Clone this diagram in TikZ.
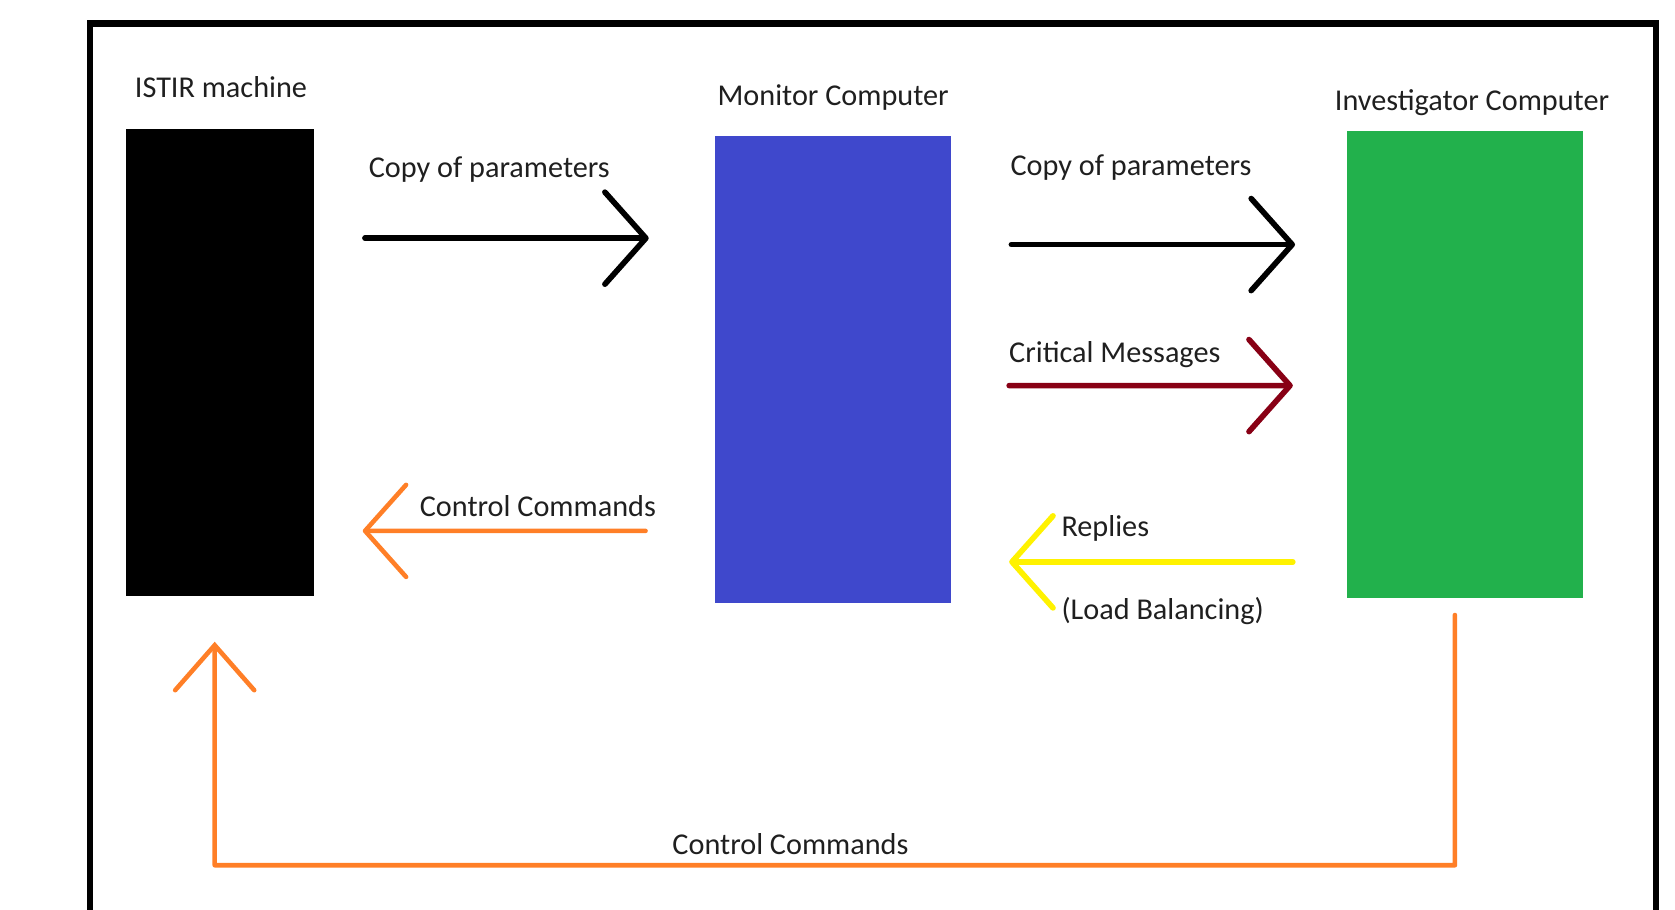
\documentclass[tikz,border=0pt]{standalone}
\usepackage{fontspec}
\setmainfont{Carlito}
\usetikzlibrary{arrows.meta}

\definecolor{paintblue}{HTML}{3F48CC}
\definecolor{paintgreen}{HTML}{22B14C}
\definecolor{paintorange}{HTML}{FF7F27}
\definecolor{paintyellow}{HTML}{FFF200}
\definecolor{paintred}{HTML}{880015}

\tikzset{
    machine/.style={draw=none, inner sep=0pt, minimum width=1.88cm, minimum height=4.67cm},
    computer/.style={draw=none, inner sep=0pt, minimum width=2.36cm, minimum height=4.67cm},
    lbl/.style={font=\fontsize{8.6}{10}\selectfont, text=black!88, inner sep=0pt},
    flow/.style={line width=1.6pt, line cap=round, line join=round,
        -{Straight Barb[length=4.1mm,width=9.2mm,line cap=round,line join=round]}},
}

\begin{document}
\begin{tikzpicture}[x=0.01cm,y=0.01cm]
    \useasboundingbox (0,0) rectangle (1675,910);
    % outer frame (its bottom edge is cut off)
    \draw[line width=1.8pt] (89.7,-20) |- (1655.8,886.5) -- (1655.8,-20);

    \node[machine, fill=black] (istir) at (220,547.3) {};
    \node[computer, fill=paintblue] (monitor) at (832.7,540.4) {};
    \node[computer, fill=paintgreen] (investigator) at (1465.1,545.2) {};

    \node[lbl] (istirlbl) at (221,822.5) {ISTIR machine};
    \node[lbl] (monitorlbl) at (833.2,812.9) {Monitor Computer};
    \node[lbl] (investigatorlbl) at (1472,807.6) {Investigator Computer};

    % forward flows
    \draw[flow] ([shift={(50.2,124.5)}]istir.east) -- ([shift={(-65.2,131.4)}]monitor.west);
    \draw[flow] ([shift={(59.9,125)}]monitor.east) -- ([shift={(-51.3,120.2)}]investigator.west);
    \draw[flow, paintred] ([shift={(57.7,-16)}]monitor.east) -- ([shift={(-53.5,-20.8)}]investigator.west);

    % backward flows
    \draw[flow, paintorange, line width=1.3pt] ([shift={(-68.4,-161.3)}]monitor.west) -- ([shift={(48,-168.2)}]istir.east);
    \draw[flow, paintyellow] ([shift={(-53.5,-197.1)}]investigator.west) -- ([shift={(57.7,-192.3)}]monitor.east);

    \coordinate (bend) at (214.7,44.7);
    \draw[flow, paintorange, line width=1.3pt, -{Straight Barb[length=4.5mm,width=7.9mm,line cap=round]}]
        ([shift={(-10.2,-15.9)}]investigator.south) |- (bend) -- ([shift={(-5.3,-44.7)}]istir.south);

    \node[lbl] (copya) at (489.3,740.4) {Copy of parameters};
    \node[lbl] (copyb) at (1131,742.5) {Copy of parameters};
    \node[lbl] (critical) at (1114.8,555) {Critical Messages};
    \node[lbl] (ctrla) at (537.9,403.5) {Control Commands};
    \node[lbl, anchor=west] (replies) at (1060.8,382) {Replies};
    \node[lbl, anchor=west] (balancing) at (1060.8,298.8) {(Load Balancing)};
    \node[lbl] (ctrlb) at (790.5,66) {Control Commands};
\end{tikzpicture}
\end{document}
